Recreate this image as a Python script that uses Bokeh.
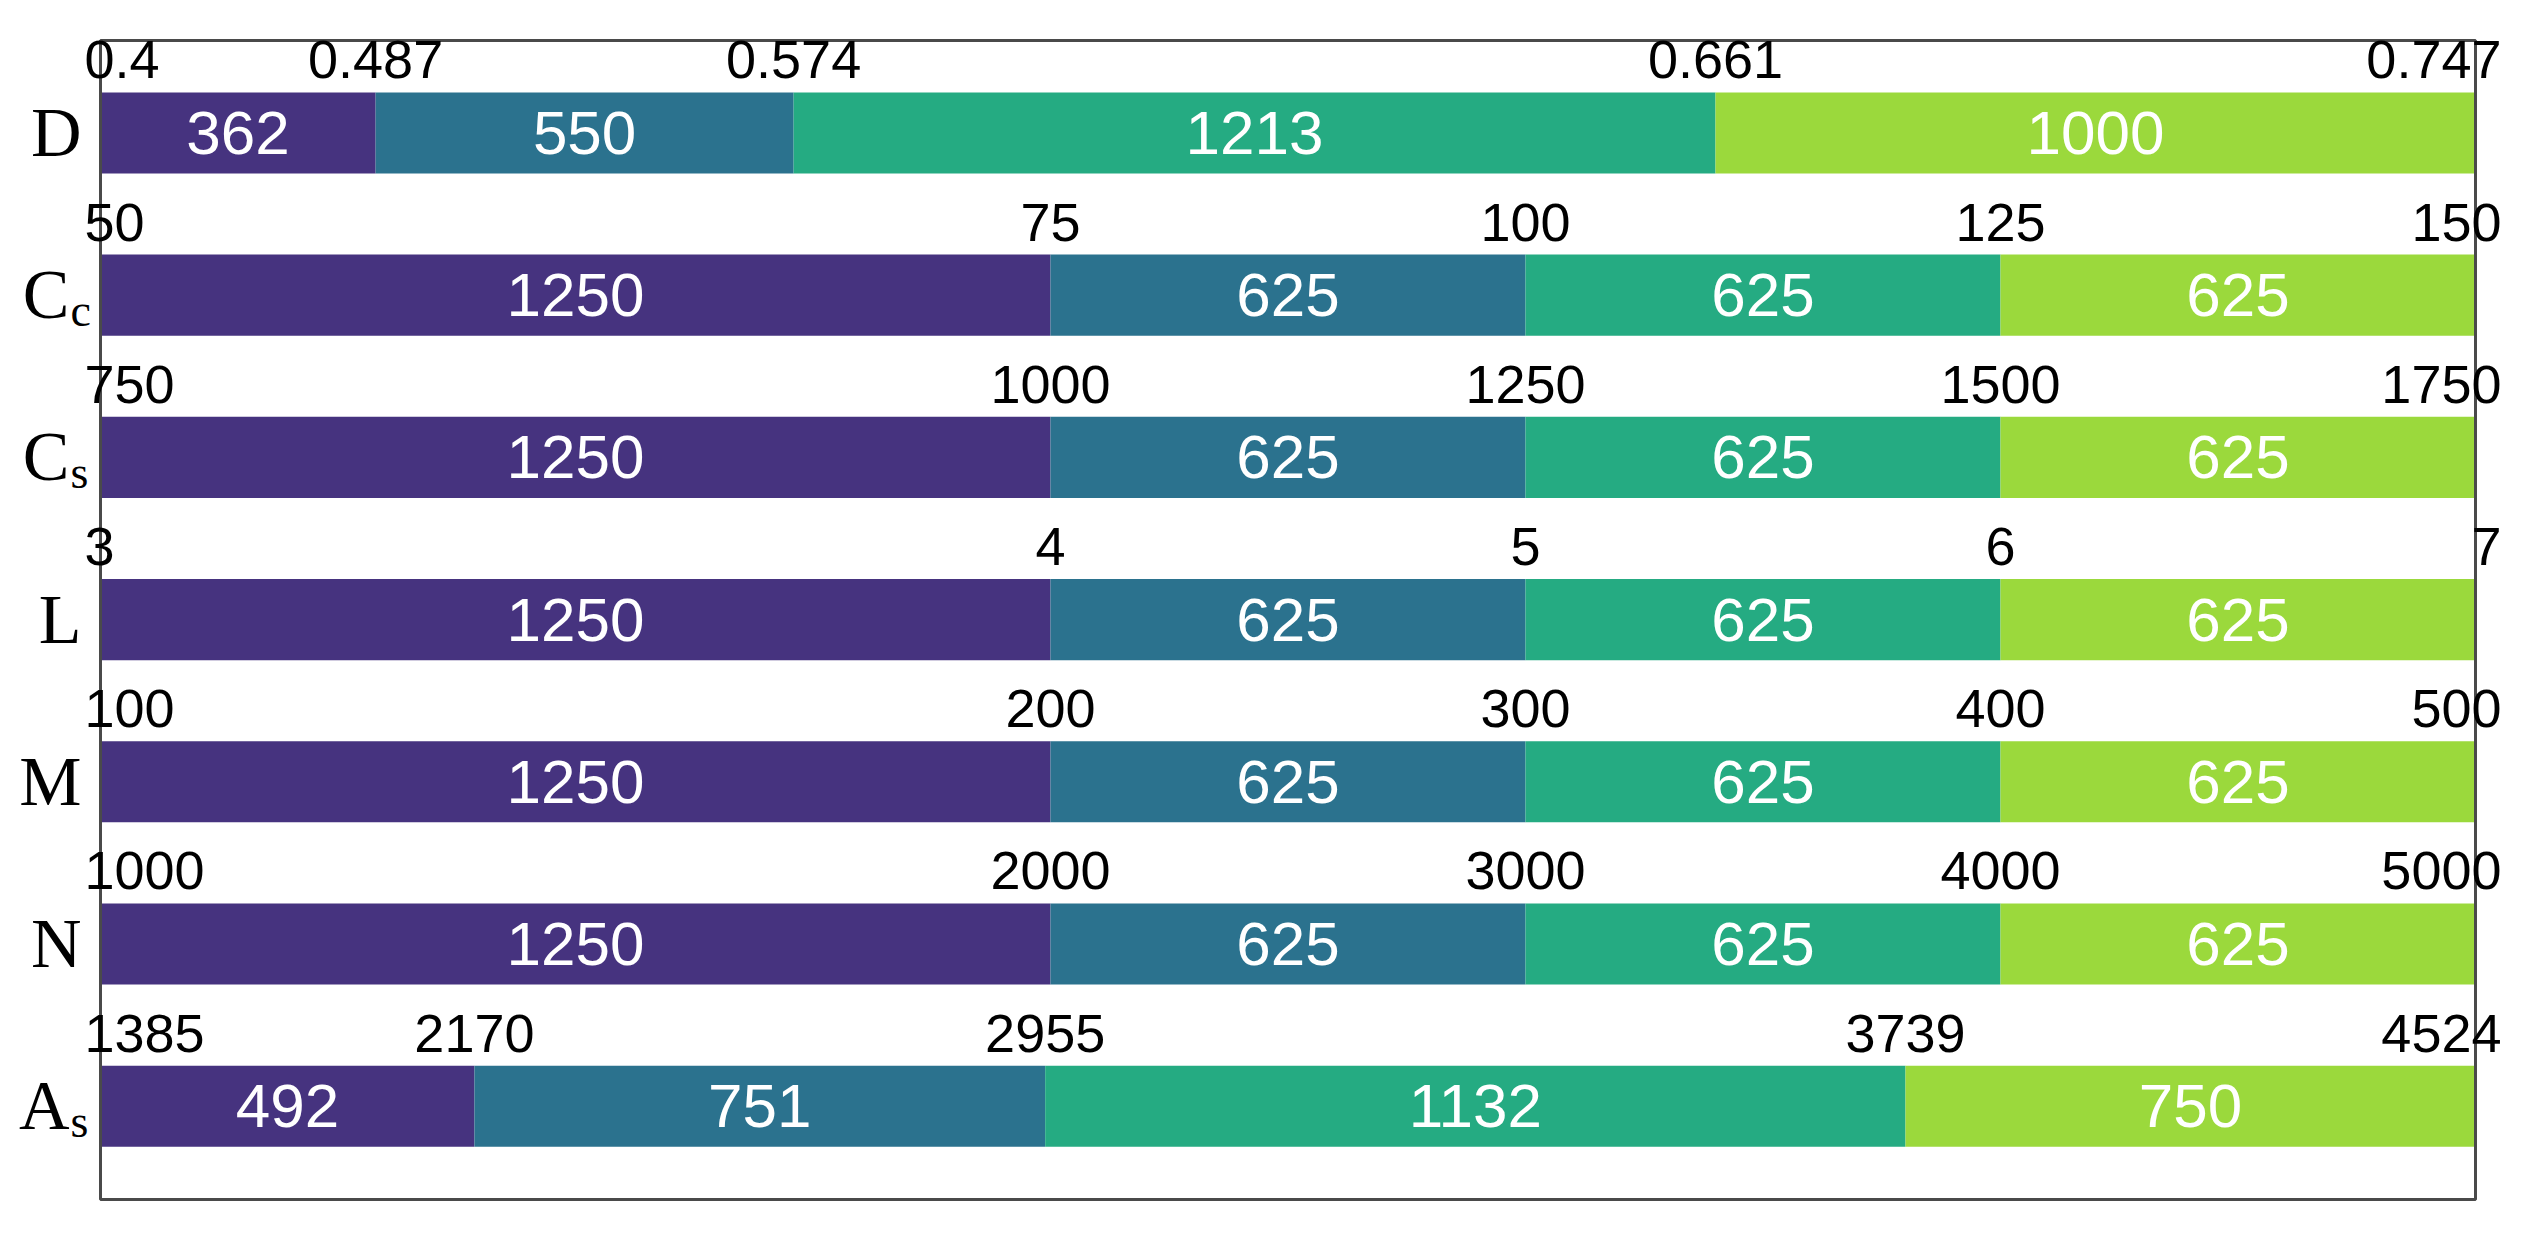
import numpy as np
from bokeh.plotting import figure
from bokeh.models import ColumnDataSource, LabelSet, Range1d
from bokeh.core.properties import value
from bokeh.embed import file_html
from bokeh.resources import INLINE

# ---- data ----
rows = ["D", "Cc", "Cs", "L", "M", "N", "As"]          # top to bottom
row_main = ["D", "C", "C", "L", "M", "N", "A"]
row_sub = ["", "c", "s", "", "", "", "s"]

seg_D = [362, 550, 1213, 1000]
seg_Cc = [1250, 625, 625, 625]
seg_Cs = [1250, 625, 625, 625]
seg_L = [1250, 625, 625, 625]
seg_M = [1250, 625, 625, 625]
seg_N = [1250, 625, 625, 625]
seg_As = [492, 751, 1132, 750]

ticks_D = ["0.4", "0.487", "0.574", "0.661", "0.747"]
ticks_Cc = ["50", "75", "100", "125", "150"]
ticks_Cs = ["750", "1000", "1250", "1500", "1750"]
ticks_L = ["3", "4", "5", "6", "7"]
ticks_M = ["100", "200", "300", "400", "500"]
ticks_N = ["1000", "2000", "3000", "4000", "5000"]
ticks_As = ["1385", "2170", "2955", "3739", "4524"]

segments = [seg_D, seg_Cc, seg_Cs, seg_L, seg_M, seg_N, seg_As]
ticks = [ticks_D, ticks_Cc, ticks_Cs, ticks_L, ticks_M, ticks_N, ticks_As]
colors = ["#46337f", "#2b728e", "#25ab82", "#9bd93c"]

# ---- layout (pixels) ----
W, H = 2525, 1237
box_l, box_r, box_t, box_b = 100, 2475, 40, 1199   # visible frame box inside canvas
n = len(rows)
box_y_lo, box_y_hi = -0.575, n - 1 + 0.57
ppu = (box_b - box_t) / (box_y_hi - box_y_lo)     # px per y unit
bar_h = 0.5
total = max(sum(s) for s in segments)
ppx = (box_r - box_l) / total                     # px per x unit

x_start = -box_l / ppx
x_end = total + (W - box_r) / ppx
y_hi = box_y_hi + box_t / ppu
y_lo = box_y_lo - (H - box_b) / ppu

p = figure(width=W, height=H, output_backend="svg", toolbar_location=None,
           x_range=Range1d(x_start, x_end), y_range=Range1d(y_lo, y_hi),
           x_axis_location=None, y_axis_location=None,
           min_border=0)
p.grid.visible = False
p.outline_line_color = None
p.background_fill_color = "white"
p.border_fill_color = "white"

# bars
bx_l, bx_r, by, bc, btxt, bmid = [], [], [], [], [], []
tx, ty, ttxt = [], [], []
for i, (segs, tk) in enumerate(zip(segments, ticks)):
    yy = n - 1 - i
    edges = np.concatenate([[0], np.cumsum(segs)])
    for j, s in enumerate(segs):
        bx_l.append(edges[j]); bx_r.append(edges[j + 1]); by.append(yy)
        bc.append(colors[j]); btxt.append(str(s)); bmid.append((edges[j] + edges[j + 1]) / 2)
    for j, t in enumerate(tk):
        tx.append(edges[j]); ty.append(yy + bar_h / 2 + 14 / ppu); ttxt.append(t)

bars = ColumnDataSource(dict(left=bx_l, right=bx_r, y=by, color=bc, text=btxt, mid=bmid))
p.hbar(y="y", left="left", right="right", height=bar_h, fill_color="color",
       line_color=None, source=bars)

# frame box
p.quad(left=[0], right=[total], bottom=[box_y_lo], top=[box_y_hi],
       fill_color=None, line_color="#4a4a4a", line_width=3)

p.add_layout(LabelSet(x="mid", y="y", text="text", source=bars,
                      text_align="center", text_baseline="middle",
                      text_color="white", text_font_size="62px",
                      text_font=value("Liberation Sans")))

# boundary labels: first left-aligned, middle centered, last right-aligned
first_idx = list(range(0, len(tx), 5))
last_idx = list(range(4, len(tx), 5))
mid_idx = [k for k in range(len(tx)) if k not in first_idx and k not in last_idx]

def sub(idx):
    return ColumnDataSource(dict(x=[tx[k] for k in idx], y=[ty[k] for k in idx],
                                 text=[ttxt[k] for k in idx]))

for idx, align, off in [(first_idx, "left", -16), (mid_idx, "center", 0), (last_idx, "right", 26)]:
    p.add_layout(LabelSet(x="x", y="y", text="text", source=sub(idx),
                          text_align=align, text_baseline="alphabetic", x_offset=off,
                          text_color="black", text_font_size="54px",
                          text_font=value("Liberation Sans")))

# row labels (serif letter + optional subscript)
ly = [n - 1 - i for i in range(n)]
main_src = ColumnDataSource(dict(
    x=[0] * n, y=[v - 23 / ppu for v in ly], text=row_main,
    off=[-19 if s == "" else -31 for s in row_sub]))
p.add_layout(LabelSet(x="x", y="y", text="text", source=main_src, x_offset="off",
                      text_align="right", text_baseline="alphabetic",
                      text_color="black", text_font_size="70px",
                      text_font=value("Liberation Serif")))
sidx = [i for i in range(n) if row_sub[i]]
sub_src = ColumnDataSource(dict(
    x=[0] * len(sidx), y=[ly[i] - 31 / ppu for i in sidx], text=[row_sub[i] for i in sidx]))
p.add_layout(LabelSet(x="x", y="y", text="text", source=sub_src, x_offset=-30,
                      text_align="left", text_baseline="alphabetic",
                      text_color="black", text_font_size="46px",
                      text_font=value("Liberation Serif")))

open("out.html", "w").write(file_html(p, INLINE))
